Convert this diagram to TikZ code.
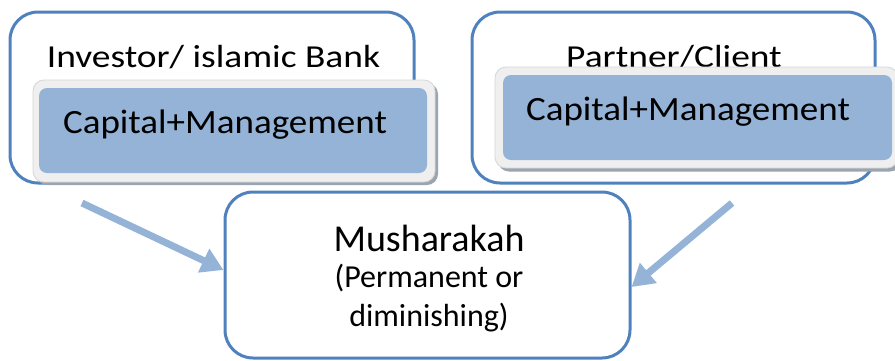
\documentclass[tikz,border=0pt]{standalone}
\usepackage{fontspec}
\setmainfont{Carlito}
\newfontfamily\headfont[FakeStretch=1.17]{Carlito}
\newfontfamily\capfont[FakeStretch=1.09]{Carlito}
\usetikzlibrary{arrows.meta,calc}
\definecolor{edgeblue}{HTML}{4F81BD}
\definecolor{fillblue}{HTML}{95B3D7}
\definecolor{bevel}{HTML}{EFEFEF}
\definecolor{bevelline}{HTML}{D6D6D6}
\definecolor{shade}{HTML}{9BA4AF}
\tikzset{
  outerbox/.style={draw=edgeblue, line width=3pt, fill=white, rounded corners=28pt,
    inner sep=0pt},
  bevelbox/.style={draw=bevelline, line width=0.8pt, fill=bevel, rounded corners=11pt,
    inner sep=0pt},
  shadebox/.style={fill=shade, rounded corners=11pt, inner sep=0pt},
  bluebox/.style={fill=fillblue, rounded corners=8pt, inner sep=0pt},
  label/.style={inner sep=0pt, font=\headfont\fontsize{32}{38}\selectfont},
  biglabel/.style={inner sep=0pt, font=\capfont\fontsize{34}{40}\selectfont},
  mainlabel/.style={inner sep=0pt, font=\fontsize{38}{44}\selectfont},
  smalllabel/.style={inner sep=0pt, align=center, font=\fontsize{32}{39}\selectfont},
  flow/.style={draw=fillblue, line width=7pt,
    -{Triangle[length=22pt,width=25pt]}}
}
\begin{document}
\begin{tikzpicture}[x=1pt,y=-1pt]
  \useasboundingbox (0,0) rectangle (895,360);

  % investor side
  \node[outerbox, minimum width=404pt, minimum height=171pt] (inv) at (212,97.5) {};
  \node[label] (invtxt) at (213.5,57) {Investor/ islamic Bank};
  \node[shadebox, minimum width=402pt, minimum height=102pt] (invsh) at (237,134) {};
  \node[bevelbox, minimum width=402pt, minimum height=102pt] (invbev) at (234,131) {};
  \node[bluebox, minimum width=388pt, minimum height=85pt] (invcap) at (233,130.5) {};
  \node[biglabel] (invcaptxt) at (225,125) {Capital+Management};

  % partner side
  \node[outerbox, minimum width=403pt, minimum height=171pt] (par) at (673.5,97.5) {};
  \node[label] (partxt) at (674,57) {Partner/Client};
  \node[shadebox, minimum width=403pt, minimum height=101pt] (parsh) at (699.5,121) {};
  \node[bevelbox, minimum width=403pt, minimum height=101pt] (parbev) at (696.5,117.5) {};
  \node[bluebox, minimum width=389pt, minimum height=85pt] (parcap) at (697.5,117.5) {};
  \node[biglabel] (parcaptxt) at (688,112) {Capital+Management};

  % the partnership
  \node[outerbox, minimum width=405pt, minimum height=166pt] (mush) at (427.5,275) {};
  \node[mainlabel] (mushtxt) at (429,238) {Musharakah};
  \node[smalllabel] (mushkind) at (429,298) {(Permanent or\\diminishing)};

  % contributions flowing in
  \coordinate (lstart) at (82,203);
  \coordinate (rstart) at (732,203);
  \draw[flow] (lstart) -- ([yshift=5pt]mush.west);
  \draw[flow] (rstart) -- ([yshift=-12pt]mush.east);
\end{tikzpicture}
\end{document}
